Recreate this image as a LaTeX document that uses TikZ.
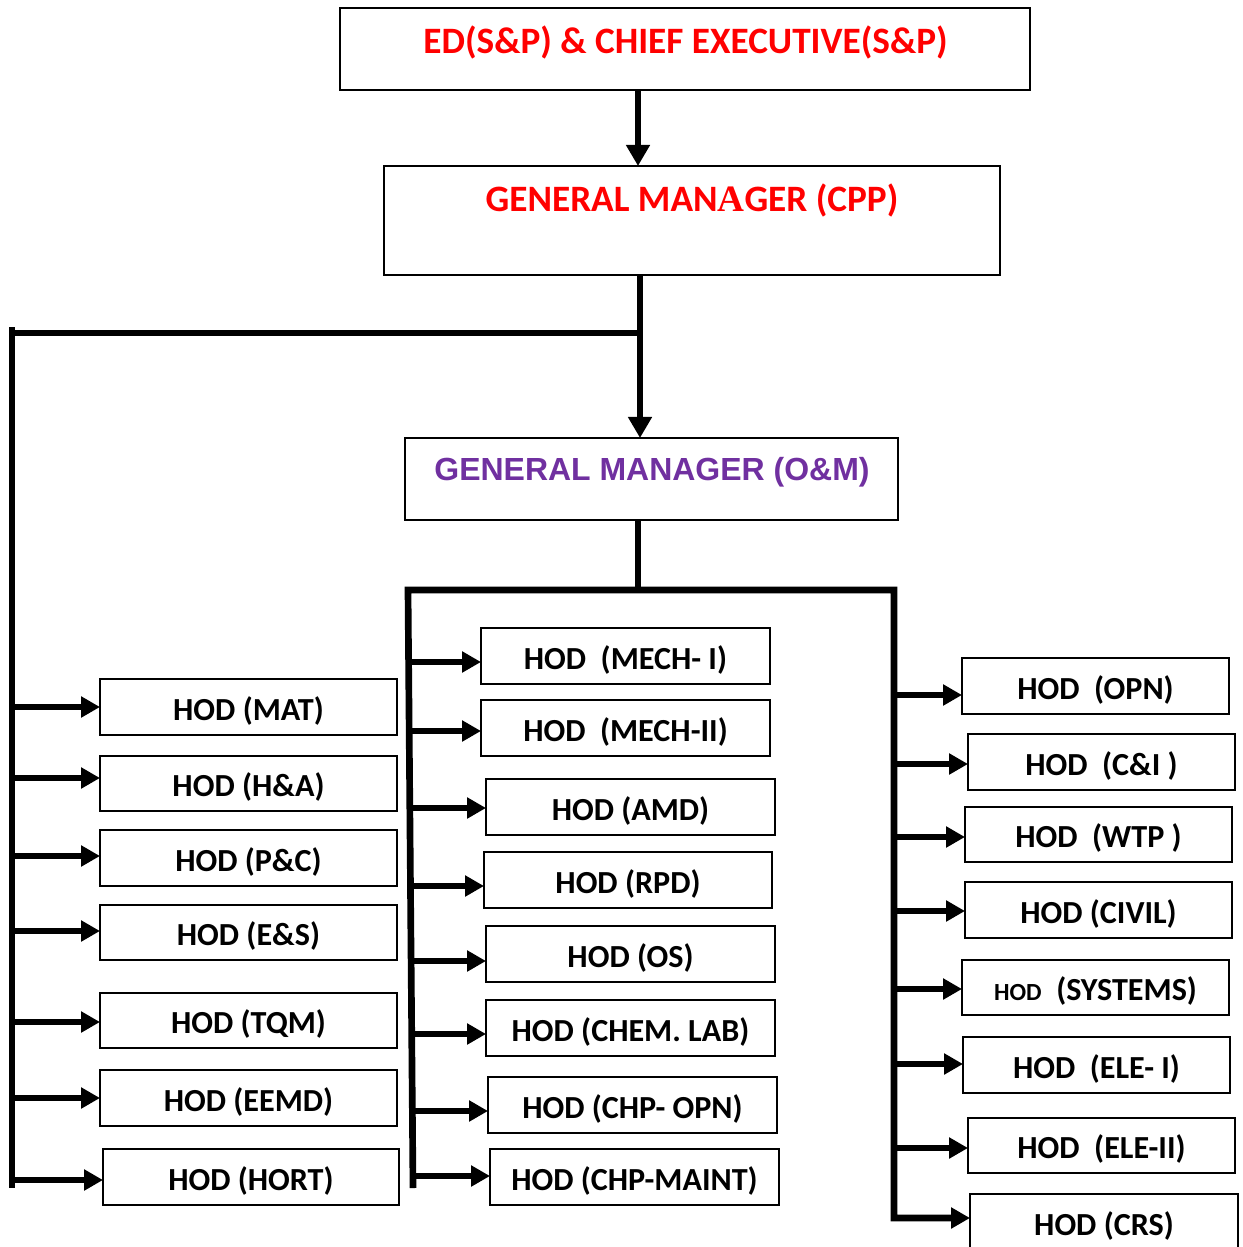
\documentclass[tikz,border=0pt]{standalone}
\usepackage{fontspec}
\setmainfont{Carlito}
\newfontfamily\arialfont{Liberation Sans}
\newfontfamily\romanA{Liberation Serif}
\usetikzlibrary{arrows.meta,calc}
\definecolor{headred}{RGB}{255,0,0}
\definecolor{ompurple}{RGB}{112,48,160}

% box from corner (x1,y1) to (x2,y2), in pixel units
\newcommand{\hodbox}[6]{%
  \node[hod, minimum width={(#4-#2)*0.02cm}, minimum height={(#5-#3)*0.02cm}]
    (#1) at ({(#2+#4)/2},{(#3+#5)/2}) {#6};}
% feeder arrow from a spine at x=#1 to box #2 at height #3
\newcommand{\feed}[3]{\draw[feedtip] (#1,#3) -- (#2.west |- 0,#3);}

\begin{document}
\begin{tikzpicture}[x=0.02cm, y=-0.02cm,
  framebox/.style={draw, line width=1.1pt, inner sep=0pt, outer sep=0pt},
  hod/.style={framebox, font=\bfseries\fontsize{18.3}{21}\selectfont,
    text height=15pt, text depth=0pt},
  headtext/.style={inner sep=0pt, font=\bfseries\fontsize{21.2}{24}\selectfont,
    text=headred, text height=13.3pt, text depth=0pt},
  omtext/.style={inner sep=0pt, font=\arialfont\bfseries\fontsize{18.2}{21}\selectfont,
    text=ompurple, text height=13pt, text depth=0pt},
  bus/.style={line width=3.8pt, line join=miter},
  feedtip/.style={bus, -{Triangle[length=10.8pt,width=11.5pt]}},
  droptip/.style={bus, -{Triangle[length=12pt,width=13pt]}},
]
\clip (0,0) rectangle (1243,1247);
\useasboundingbox (0,0) rectangle (1243,1247);

% ---- upper management ----
\node[framebox, minimum width={690*0.02cm}, minimum height={82*0.02cm}] (ed) at (685,49) {};
\node[headtext] (edlbl) at (685.5,42) {ED(S\&P) \& CHIEF EXECUTIVE(S\&P)};

\node[framebox, minimum width={616*0.02cm}, minimum height={109*0.02cm}] (cpp) at (692,220.5) {};
\node[headtext] (cpplbl) at (692,200) {GENERAL MAN{\romanA A}GER (CPP)};

\node[framebox, minimum width={493*0.02cm}, minimum height={82*0.02cm}] (om) at (651.5,479) {};
\node[omtext] (omlbl) at (652,469) {GENERAL MANAGER (O\&M)};

\draw[droptip] (ed.south -| 638,0) -- (cpp.north -| 638,0);
\coordinate (split) at (640,333);
\draw[droptip] (cpp.south -| split) -- (om.north -| split);
\draw[bus] (split) -- (12,333);

% ---- left group ----
\hodbox{mat}{100}{679}{397}{735}{HOD (MAT)}
\hodbox{ha}{100}{756}{397}{811}{HOD (H\&A)}
\hodbox{pc}{100}{830}{397}{886}{HOD (P\&C)}
\hodbox{es}{100}{905}{397}{960}{HOD (E\&S)}
\hodbox{tqm}{100}{993}{397}{1048}{HOD (TQM)}
\hodbox{eemd}{100}{1070}{397}{1126}{HOD (EEMD)}
\hodbox{hort}{103}{1149}{399}{1205}{HOD (HORT)}

\draw[bus] (12,327) -- (12,1188);
\feed{12}{mat}{707}
\feed{12}{ha}{778}
\feed{12}{pc}{856}
\feed{12}{es}{931}
\feed{12}{tqm}{1022}
\feed{12}{eemd}{1098}
\feed{12}{hort}{1180}

% ---- middle group ----
\hodbox{mechi}{481}{628}{770}{684}{HOD~~(MECH- I)}
\hodbox{mechii}{481}{700}{770}{756}{HOD~~(MECH-II)}
\hodbox{amd}{486}{779}{775}{835}{HOD (AMD)}
\hodbox{rpd}{484}{852}{772}{908}{HOD (RPD)}
\hodbox{os}{486}{926}{775}{982}{HOD (OS)}
\hodbox{chem}{486}{1000}{775}{1056}{HOD (CHEM. LAB)}
\hodbox{chpopn}{488}{1077}{777}{1133}{HOD (CHP- OPN)}
\hodbox{chpmaint}{490}{1149}{779}{1205}{HOD (CHP-MAINT)}

% ---- right group ----
\hodbox{opn}{962}{658}{1229}{714}{HOD~~(OPN)}
\hodbox{ci}{968}{734}{1235}{790}{HOD~~(C\&I )}
\hodbox{wtp}{965}{807}{1232}{862}{HOD~~(WTP )}
\hodbox{civil}{965}{882}{1232}{938}{HOD (CIVIL)}
\hodbox{sys}{962}{960}{1229}{1015}{{\fontsize{14}{16}\selectfont HOD}~~(SYSTEMS)}
\hodbox{elei}{963}{1037}{1230}{1093}{HOD~~(ELE- I)}
\hodbox{eleii}{968}{1118}{1235}{1173}{HOD~~(ELE-II)}
\hodbox{crs}{970}{1194}{1238}{1250}{HOD (CRS)}

% distribution bus under GM (O&M)
\coordinate (midtop) at (408,590);
\coordinate (midbot) at (413,1188);
\coordinate (righttop) at (894,590);
\draw[bus] (om.south -| 638,0) -- (638,590);
\draw[feedtip] (midbot) -- (midtop) -- (righttop) -- (894,1218) -- (crs.west |- 0,1218);

\feed{411}{mechi}{662}
\feed{411}{mechii}{731}
\feed{411}{amd}{808}
\feed{411}{rpd}{886}
\feed{411}{os}{961}
\feed{411}{chem}{1034}
\feed{411}{chpopn}{1111}
\feed{411}{chpmaint}{1176}

\feed{894}{opn}{695}
\feed{894}{ci}{764}
\feed{894}{wtp}{837}
\feed{894}{civil}{911}
\feed{894}{sys}{989}
\feed{894}{elei}{1064}
\feed{894}{eleii}{1148}
\end{tikzpicture}
\end{document}
